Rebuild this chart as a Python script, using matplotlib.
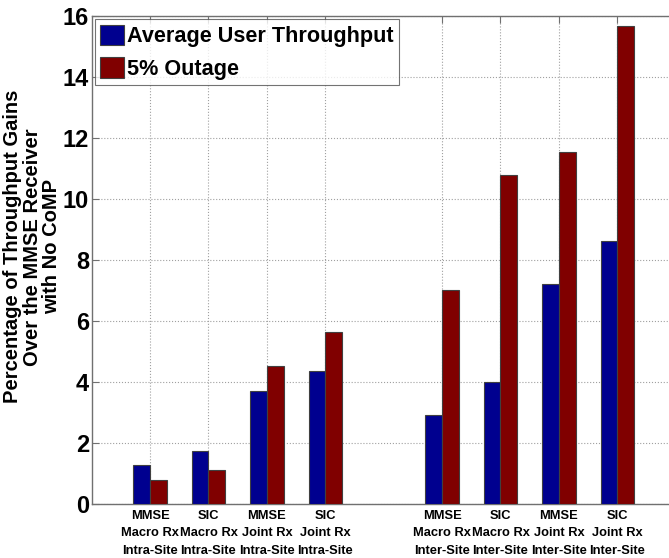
# -*- coding: utf-8 -*-

import numpy as np
import matplotlib
matplotlib.use('Agg')
import matplotlib.pyplot as plt

# bar positions (slot 5 is left empty as a gap between the two groups)
positions = [1, 2, 3, 4, 6, 7, 8, 9]
tick_labels = ['MMSE\nMacro Rx\nIntra-Site', 'SIC\nMacro Rx\nIntra-Site',
               'MMSE\nJoint Rx\nIntra-Site', 'SIC\nJoint Rx\nIntra-Site',
               'MMSE\nMacro Rx\nInter-Site', 'SIC\nMacro Rx\nInter-Site',
               'MMSE\nJoint Rx\nInter-Site', 'SIC\nJoint Rx\nInter-Site']
avg_throughput = [1.28, 1.75, 3.70, 4.37, 2.91, 3.99, 7.21, 8.62]
outage_5pct = [0.79, 1.12, 4.51, 5.64, 7.00, 10.78, 11.55, 15.68]

plt.rcParams['font.family'] = ['Liberation Sans', 'DejaVu Sans']

fig = plt.figure(figsize=(6.69, 5.58), dpi=100)
ax = fig.add_axes([0.137, 0.0968, 0.873, 0.8746])

w = 0.287
x = np.array(positions, dtype=float)
ax.bar(x - w/2, avg_throughput, w, color=(0, 0, 0.5625), edgecolor='#404040',
       linewidth=0.8, label='Average User Throughput', zorder=3)
ax.bar(x + w/2, outage_5pct, w, color=(0.5, 0, 0), edgecolor='#404040',
       linewidth=0.8, label='5% Outage', zorder=3)

ax.set_xlim(0, 10)
ax.set_ylim(0, 16)
ax.set_yticks(range(0, 17, 2))
ax.set_xticks(positions)
ax.set_xticklabels(tick_labels, fontsize=9.3, fontweight='bold',
                   linespacing=1.62)
for t in ax.get_yticklabels():
    t.set_fontsize(17)
    t.set_fontweight('bold')

ax.tick_params(direction='in', top=True, right=True, length=5, width=0.8,
               color='#707070')
ax.tick_params(axis='y', pad=2)
ax.tick_params(axis='x', pad=4)
ax.grid(True, linestyle=':', color='#a0a0a0', linewidth=0.8, zorder=0)
ax.set_axisbelow(True)
for s in ax.spines.values():
    s.set_color('#707070')
    s.set_linewidth(1.0)

ax.set_ylabel('Percentage of Throughput Gains\nOver the MMSE Receiver\nwith No CoMP',
              fontsize=14.5, fontweight='bold', linespacing=1.05)
ax.yaxis.set_label_coords(-0.052, 0.527)

leg = ax.legend(loc='upper left', prop={'weight': 'bold', 'size': 15.6},
                frameon=True, fancybox=False, borderaxespad=0.15,
                handlelength=1.1, handleheight=1.1, handletextpad=0.15,
                labelspacing=0.45, borderpad=0.25)
leg.get_frame().set_edgecolor('#505050')
leg.get_frame().set_linewidth(0.8)

fig.savefig('out.png', dpi=100)
